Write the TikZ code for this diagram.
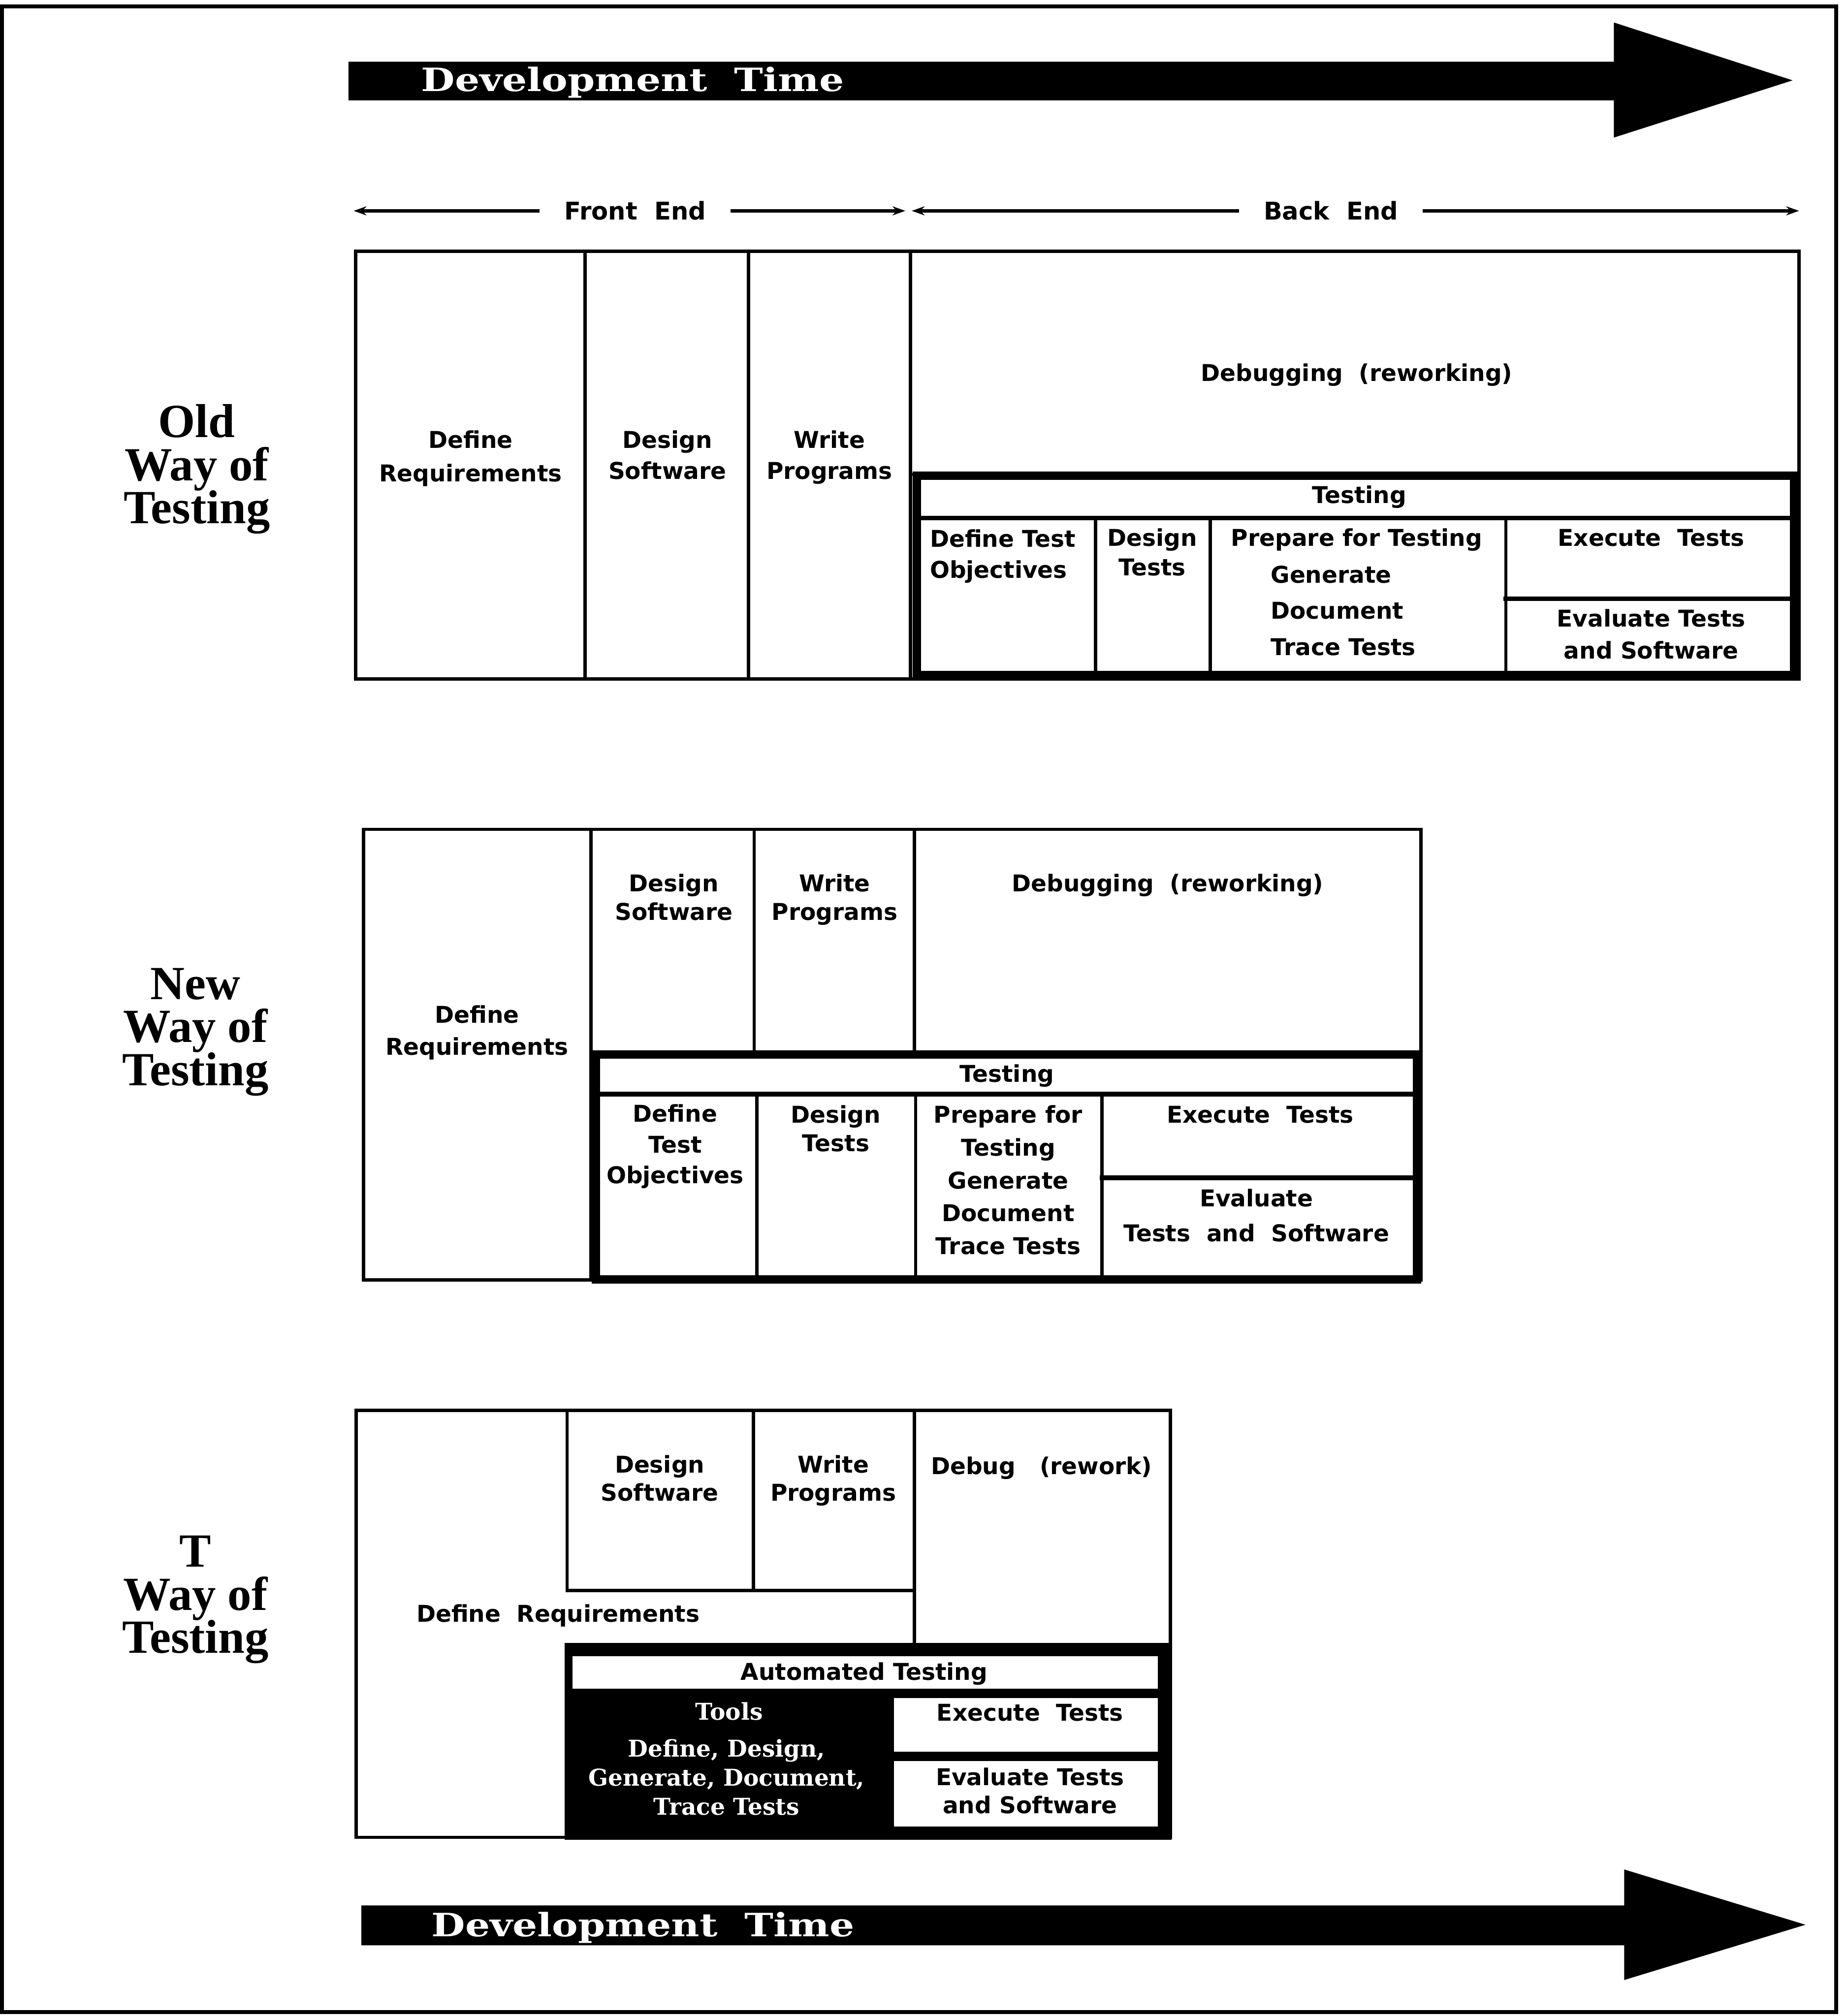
\documentclass[tikz,border=0pt]{standalone}
\usepackage{fontspec}
\usepackage{graphicx}
\usetikzlibrary{arrows.meta}
\newfontfamily\sansbold{DejaVu Sans}
\newfontfamily\serifbold{DejaVu Serif}
\newfontfamily\headserif{Liberation Serif}
% struts whose height minus depth equals the cap height, so a node's centre sits on the cap centres
\newcommand{\st}{\vrule width 0pt height 1.009em depth 0.28em\relax}
\newcommand{\stl}{\vrule width 0pt height 0.912em depth 0.25em\relax}

\tikzset{
  cell/.style={font=\sansbold\bfseries\fontsize{18}{#1}\selectfont,
               align=center, inner sep=0pt},
  cell/.default=24,
  endlabel/.style={font=\sansbold\bfseries\fontsize{19}{24}\selectfont,
               inner sep=0pt, inner xsep=19pt},
  waylabel/.style={font=\headserif\bfseries\fontsize{37}{33.5}\selectfont,
               align=center, inner sep=0pt},
  timelabel/.style={font=\serifbold\bfseries\fontsize{25}{25}\selectfont,
               text=white, inner sep=0pt},
  toollabel/.style={font=\serifbold\bfseries\fontsize{18}{22.5}\selectfont,
               text=white, align=center, inner sep=0pt},
  thin line/.style={line width=2.6pt, line cap=rect},
  mid line/.style={line width=3.6pt, line cap=rect},
  heavy line/.style={line width=6.5pt, line cap=rect},
  dim/.style={line width=2.4pt, -{Stealth[length=10pt,width=7pt]}},
  bigarrow/.style={fill=black}
}

\begin{document}
\lineskiplimit=-100pt\relax
\begin{tikzpicture}[x=1pt,y=-1pt]
\useasboundingbox (0,0) rectangle (1437,1568);

% page frame
\draw[line width=3pt] (1.5,5) rectangle (1428,1565);

% ---------- development time arrows ----------
\fill[bigarrow] (271,48) -- (1255,48) -- (1255,17.5) -- (1394,62.5) -- (1255,107)
   -- (1255,78) -- (271,78) -- cycle;
\node[timelabel] (devTop) at (492,62) {\scalebox{1.21}[1]{\st Development~~Time}};

\fill[bigarrow] (281,1482) -- (1263,1482) -- (1263,1454) -- (1404,1497) -- (1263,1540)
   -- (1263,1513) -- (281,1513) -- cycle;
\node[timelabel] (devBot) at (500,1497) {\scalebox{1.21}[1]{\st Development~~Time}};

% ---------- front end / back end ----------
\node[endlabel] (fe) at (494,164) {\st Front~~End};
\node[endlabel] (be) at (1035,164) {\st Back~~End};
\coordinate (feL) at (275,164);
\coordinate (feR) at (704,164);
\coordinate (beL) at (709,164);
\coordinate (beR) at (1399,164);
\draw[dim] (fe.west) -- (feL);
\draw[dim] (fe.east) -- (feR);
\draw[dim] (be.west) -- (beL);
\draw[dim] (be.east) -- (beR);

% ---------- old way ----------
\draw[thin line] (276.6,195.5) rectangle (1399,528);
\draw[thin line] (455,195.5) -- (455,528);
\draw[thin line] (582,195.5) -- (582,528);
\draw[thin line] (708,195.5) -- (708,528);
\draw[thin line] (708,369) -- (1399,369);
\draw[heavy line] (713,370) rectangle (1395,525);
\draw[mid line] (713,403) -- (1395,403);
\draw[thin line] (852,403) -- (852,525);
\draw[thin line] (941,403) -- (941,525);
\draw[thin line] (1171,403) -- (1171,525);
\draw[mid line] (1171,465.6) -- (1395,465.6);

\node[waylabel] (lOld) at (153,361.5) {\stl Old\\\stl Way of\\\stl Testing};
\node[cell=26] (oReq) at (366,355) {\st Define\\\st Requirements};
\node[cell=24] (oDes) at (519,354) {\st Design\\\st Software};
\node[cell=24] (oWri) at (645,354) {\st Write\\\st Programs};
\node[cell] (oDbg) at (1055,290) {\st Debugging~~(reworking)};
\node[cell] (oTst) at (1057,385) {\st Testing};
\node[cell=24, align=left, anchor=west] (oObj) at (723,431) {\st Define Test\\\st Objectives};
\node[cell=23] (oDT) at (896,429.5) {\st Design\\\st Tests};
\node[cell] (oPrep) at (1055,418) {\st Prepare for Testing};
\node[cell=28, align=left, anchor=west] (oGen) at (988,475) {\st Generate\\\st Document\\\st Trace Tests};
\node[cell] (oExe) at (1284,418) {\st Execute~~Tests};
\node[cell=25] (oEva) at (1284,493.5) {\st Evaluate Tests\\\st and Software};

% ---------- new way ----------
\draw[thin line] (282.6,645) rectangle (1105,995.5);
\draw[thin line] (459.7,645) -- (459.7,995.5);
\draw[thin line] (586.5,645) -- (586.5,819.5);
\draw[thin line] (711,645) -- (711,819.5);
\draw[heavy line] (463.5,820) rectangle (1102,995);
\draw[mid line] (463.5,851) -- (1102,851);
\draw[thin line] (588.6,851) -- (588.6,995);
\draw[thin line] (712,851) -- (712,995);
\draw[thin line] (857,851) -- (857,995);
\draw[mid line] (857,916) -- (1102,916);

\node[waylabel] (lNew) at (152,798.5) {\stl New\\\stl Way of\\\stl Testing};
\node[cell=25] (nReq) at (371,801.5) {\st Define\\\st Requirements};
\node[cell=22] (nDes) at (524,698) {\st Design\\\st Software};
\node[cell=22] (nWri) at (649,698) {\st Write\\\st Programs};
\node[cell] (nDbg) at (908,687) {\st Debugging~~(reworking)};
\node[cell] (nTst) at (783,835) {\st Testing};
\node[cell=24] (nObj) at (525,890) {\st Define\\\st Test\\\st Objectives};
\node[cell=22] (nDT) at (650,878) {\st Design\\\st Tests};
\node[cell=25.5] (nPrep) at (784,918) {\st Prepare for\\\st Testing\\\st Generate\\\st Document\\\st Trace Tests};
\node[cell] (nExe) at (980,867) {\st Execute~~Tests};
\node[cell=27] (nEva) at (977,945.5) {\st Evaluate\\\st Tests~~and~~Software};

% ---------- T way ----------
\draw[thin line] (277,1097) rectangle (910,1429);
\draw[thin line] (441,1097) rectangle (586,1237);
\draw[thin line] (586,1097) rectangle (711,1237);
\draw[thin line] (711,1097) -- (711,1282);
\fill (439,1278) rectangle (911,1431);
\draw[thin line, fill=white] (444,1287) rectangle (901.5,1314.7);
\draw[thin line, fill=white] (694,1319.5) rectangle (901.5,1363.7);
\draw[thin line, fill=white] (694,1368.4) rectangle (901.5,1422);

\node[waylabel] (lT) at (152,1240) {\stl T\\\stl Way of\\\stl Testing};
\node[cell=22] (tDes) at (513,1150) {\st Design\\\st Software};
\node[cell=22] (tWri) at (648,1150) {\st Write\\\st Programs};
\node[cell] (tDbg) at (810,1140) {\st Debug~~~(rework)};
\node[cell] (tReq) at (434,1255) {\st Define~~Requirements};
\node[cell] (tAut) at (672,1300) {\st Automated Testing};
\node[toollabel] (tTools) at (567,1331) {\st Tools};
\node[toollabel] (tDefs) at (565,1382.5) {\st Define, Design,\\\st Generate, Document,\\\st Trace Tests};
\node[cell] (tExe) at (801,1332) {\st Execute~~Tests};
\node[cell=22] (tEva) at (801,1393) {\st Evaluate Tests\\\st and Software};
\end{tikzpicture}
\end{document}
